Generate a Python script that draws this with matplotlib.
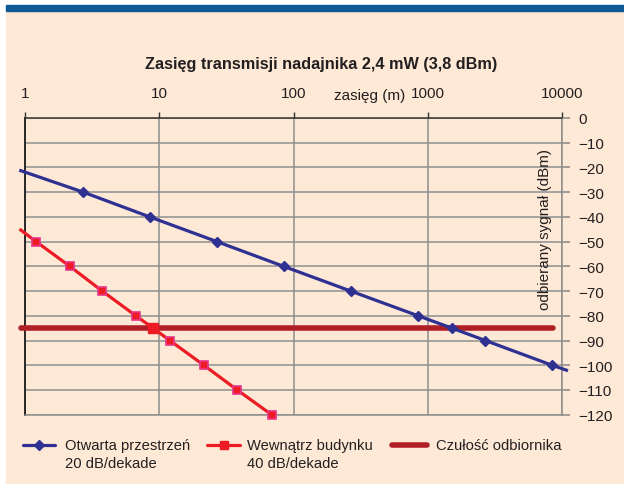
import matplotlib
matplotlib.use("Agg")
import matplotlib.pyplot as plt
from matplotlib.lines import Line2D
from matplotlib.patches import Rectangle

plt.rcParams['font.family'] = ['Liberation Sans', 'DejaVu Sans']

# free space propagation, 20 dB per decade
distance_open = [0.93, 2.72, 8.5, 26.9, 84.4, 267, 848, 1516, 2688, 8440, 10800]
signal_open = [-21.3, -30, -40, -50, -60, -70, -80, -85, -90, -100, -102]

# inside a building, 40 dB per decade
distance_inside = [0.93, 1.21, 2.16, 3.76, 6.7, 9.0, 12.0, 21.5, 38.1, 68.7]
signal_inside = [-45.3, -50, -60, -70, -80, -85, -90, -100, -110, -120]

# receiver sensitivity
distance_sens = [0.93, 8520]
signal_sens = [-85, -85]

x_ticks = [1, 10, 100, 1000, 10000]
x_labels = ['1', '10', '100', '1000', '10000']
y_ticks = list(range(0, -121, -10))

title = 'Zasięg transmisji nadajnika 2,4 mW (3,8 dBm)'
legend_labels = ['Otwarta przestrzeń\n20 dB/dekade',
                 'Wewnątrz budynku\n40 dB/dekade',
                 'Czułość odbiornika']

BG = '#fde9d6'
BLUE = '#2e3192'
RED = '#ed1c24'
PINK = '#e8358a'
DARKRED = '#b01f26'
GRID = '#8e8e8e'
TXT = '#231f20'

W, H = 624, 485
fig = plt.figure(figsize=(W / 100, H / 100), dpi=100, facecolor='white')

# page background and stripe
fig.patches.append(Rectangle((6 / W, 0), 1 - 6 / W, 1 - 12 / H,
                             transform=fig.transFigure, color=BG, zorder=-10))
fig.patches.append(Rectangle((6 / W, 1 - 12 / H), 1 - 6 / W, 6 / H,
                             transform=fig.transFigure, color='#0f5a96', zorder=-10))

ax = fig.add_axes([25 / W, 1 - 415.7 / H, 537 / W, 296.7 / H])
ax.set_facecolor(BG)
ax.set_xscale('log')
ax.set_xlim(1, 10000)
ax.set_ylim(-120, 0)

ax.set_xticks(x_ticks)
ax.set_xticklabels(x_labels)
ax.xaxis.set_minor_locator(matplotlib.ticker.NullLocator())
ax.set_yticks(y_ticks)
ax.set_yticklabels([str(v).replace('-', '\u2212') for v in y_ticks])

ax.xaxis.tick_top()
ax.yaxis.tick_right()
ax.tick_params(axis='x', direction='out', length=4, width=1, color='#333333',
               labelsize=11, labelcolor=TXT, pad=9)
ax.tick_params(axis='y', direction='out', length=6, width=1.2, color=GRID,
               labelsize=11, labelcolor=TXT, pad=6)

ax.grid(True, color=GRID, lw=1.1)
ax.set_axisbelow(True)
ax.spines['left'].set_color('#1a1a1a')
ax.spines['left'].set_linewidth(1.3)
ax.spines['top'].set_color('#333333')
ax.spines['top'].set_linewidth(1.1)
ax.spines['right'].set_color(GRID)
ax.spines['right'].set_linewidth(1.1)
ax.spines['bottom'].set_color(GRID)
ax.spines['bottom'].set_linewidth(1.1)

# sensitivity line
ax.plot(distance_sens, signal_sens, color=DARKRED, lw=4, solid_capstyle='round',
        clip_on=False, zorder=3)

# open space
ax.plot(distance_open, signal_open, color=BLUE, lw=2.3, marker='D', ms=5,
        markevery=slice(1, len(distance_open) - 1), clip_on=False, zorder=4)

# inside building
ax.plot(distance_inside, signal_inside, color=RED, lw=2.3, clip_on=False, zorder=4)
ax.plot(distance_inside[1:], signal_inside[1:], ls='none', marker='s', ms=5.5,
        mfc=RED, mec=PINK, mew=1.2, clip_on=False, zorder=5)
ax.plot(distance_inside[5], signal_inside[5], ls='none', marker='s', ms=7.5,
        mfc=RED, mec=RED, zorder=6)

# axis titles inside the frame
ax.text(0.642, 1.078, 'zasięg (m)', transform=ax.transAxes, ha='center',
        va='center', fontsize=11, color=TXT)
ax.text(0.968, 0.626, 'odbierany sygnał (dBm)', transform=ax.transAxes,
        ha='center', va='center', rotation=90, fontsize=11, color=TXT)

fig.text(321 / W, 1 - 64 / H, title, ha='center', va='center', fontsize=11.7,
         fontweight='bold', color=TXT)

# legend row under the chart
handles = [
    dict(x0=23, x1=55, color=BLUE, lw=2.3, marker='D', ms=5, mfc=BLUE, mec=BLUE),
    dict(x0=207, x1=240, color=RED, lw=2.3, marker='s', ms=6, mfc=RED, mec=RED),
    dict(x0=392, x1=427, color=DARKRED, lw=4, marker=None, ms=0, mfc=DARKRED, mec=DARKRED),
]
text_x = [65, 247, 436]
for h, tx, label in zip(handles, text_x, legend_labels):
    y = 1 - 446 / H
    fig.add_artist(Line2D([h['x0'] / W, h['x1'] / W], [y, y], transform=fig.transFigure,
                          color=h['color'], lw=h['lw'], solid_capstyle='round'))
    if h['marker']:
        fig.add_artist(Line2D([(h['x0'] + h['x1']) / 2 / W], [y], transform=fig.transFigure,
                              ls='none', marker=h['marker'], ms=h['ms'],
                              mfc=h['mfc'], mec=h['mec']))
    for i, line in enumerate(label.split('\n')):
        fig.text(tx / W, 1 - (450 + 18 * i) / H, line, ha='left', va='baseline',
                 fontsize=10.6, color=TXT)

fig.savefig('out.png', dpi=100, facecolor='white')
